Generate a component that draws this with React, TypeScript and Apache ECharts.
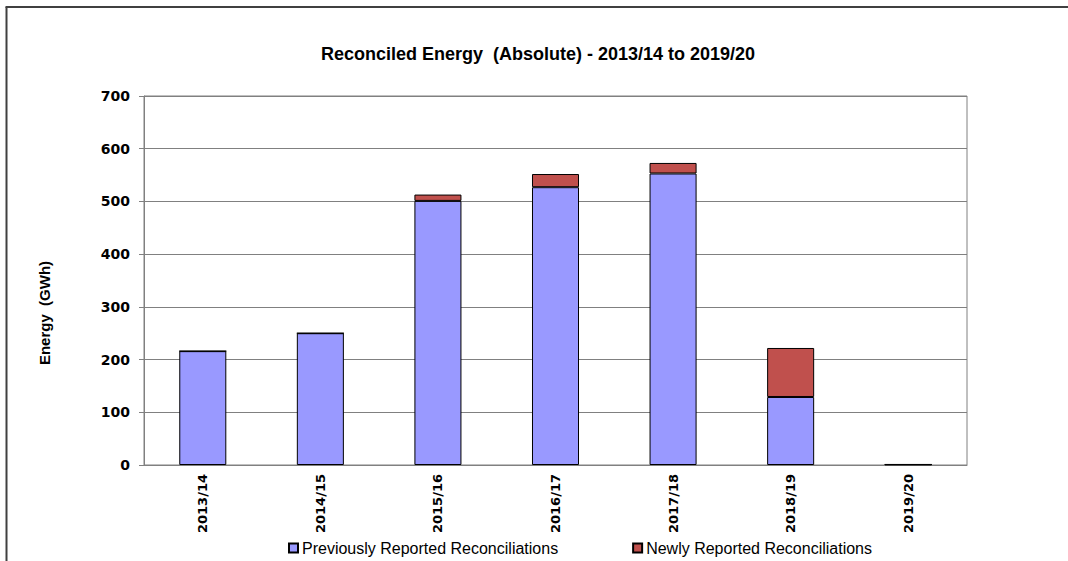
import React, { useEffect, useRef } from "react";
import * as echarts from "echarts";

const categories = ["2013/14", "2014/15", "2015/16", "2016/17", "2017/18", "2018/19", "2019/20"];
const previouslyReported = [216, 250, 501, 527, 553, 129, 1];
const newlyReported = [0, 0, 12, 25, 20, 93, 0];
const yTicks = { min: 0, max: 700, interval: 100 };

export default function App() {
  const ref = useRef<HTMLDivElement>(null);
  useEffect(() => {
    const chart = echarts.init(ref.current!, null, { renderer: "svg" });
    const font = "Liberation Sans, Arial, sans-serif";
    chart.setOption({
      animation: false,
      backgroundColor: "#ffffff",
      title: {
        text: "Reconciled Energy  (Absolute) - 2013/14 to 2019/20",
        left: 533,
        textAlign: "center",
        top: 40,
        textStyle: { fontFamily: font, fontSize: 18, fontWeight: "bold", color: "#000" },
      },
      graphic: [
        { type: "line", shape: { x1: 6.5, y1: 7, x2: 6.5, y2: 561 }, style: { stroke: "#404040", lineWidth: 2 } },
        { type: "line", shape: { x1: 5.5, y1: 7, x2: 1068, y2: 7 }, style: { stroke: "#404040", lineWidth: 2 } },
        {
          type: "text",
          x: 44,
          y: 313,
          rotation: Math.PI / 2,
          style: {
            text: "Energy  (GWh)",
            fontFamily: font,
            fontSize: 15,
            fontWeight: "bold",
            fill: "#000",
            align: "center",
            verticalAlign: "middle",
          },
        },
      ],
      legend: {
        left: 283,
        top: 535,
        itemWidth: 9,
        itemHeight: 9,
        itemGap: 74,
        icon: "rect",
        textStyle: { fontFamily: font, fontSize: 16, color: "#000", padding: [0, 0, 0, -1] },
        data: ["Previously Reported Reconciliations", "Newly Reported Reconciliations"],
      },
      grid: {
        left: 144,
        right: 101,
        top: 96,
        bottom: 96,
        show: true,
        borderColor: "#808080",
        borderWidth: 1,
      },
      xAxis: {
        type: "category",
        data: categories,
        axisLine: { lineStyle: { color: "#808080" } },
        axisTick: { alignWithLabel: false, length: 5, lineStyle: { color: "#808080" } },
        axisLabel: {
          rotate: 90,
          margin: 9,
          fontFamily: "DejaVu Sans, sans-serif",
          fontWeight: "bold",
          fontSize: 13,
          color: "#000",
        },
      },
      yAxis: {
        type: "value",
        min: yTicks.min,
        max: yTicks.max,
        interval: yTicks.interval,
        axisLine: { show: true, lineStyle: { color: "#808080" } },
        axisTick: { show: true, length: 5, lineStyle: { color: "#808080" } },
        axisLabel: {
          margin: 14,
          fontFamily: "DejaVu Sans, sans-serif",
          fontWeight: "bold",
          fontSize: 14,
          color: "#000",
        },
        splitLine: { lineStyle: { color: "#808080", width: 1 } },
      },
      series: [
        {
          name: "Previously Reported Reconciliations",
          type: "bar",
          stack: "total",
          barWidth: "40%",
          data: previouslyReported,
          itemStyle: { color: "#9999FF", borderColor: "#000", borderWidth: 1 },
        },
        {
          name: "Newly Reported Reconciliations",
          type: "bar",
          stack: "total",
          barWidth: "40%",
          data: newlyReported,
          itemStyle: { color: "#C0504D", borderColor: "#000", borderWidth: 1 },
        },
      ],
    });
    return () => chart.dispose();
  }, []);
  return (
    <div
      ref={ref}
      style={{ position: "absolute", left: 0, top: 0, width: 1068, height: 561 }}
    />
  );
}
